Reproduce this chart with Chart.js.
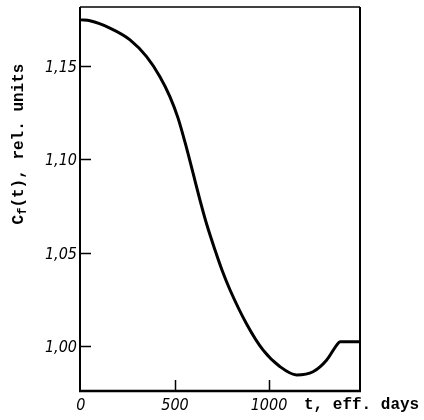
<!doctype html>
<html lang="en">
<head>
    <meta charset="utf-8">
    <title>Cf(t)</title>
    <script src="https://cdn.jsdelivr.net/npm/chart.js"></script>
    <style>
        body {
            margin: 0;
            background: #fff;
        }
    </style>
</head>
<body>
    <canvas id="chart" width="424" height="420"></canvas>

    <script>
        // values
        const days = [0, 48, 154, 261, 349, 420, 473, 516, 553, 596, 633, 670, 713, 750, 793, 881, 968, 1059, 1147, 1234, 1307, 1360, 1378, 1484];
        const cf = [1.1747, 1.1742, 1.1703, 1.1640, 1.1550, 1.1443, 1.1336, 1.1222, 1.1093, 1.0927, 1.0782, 1.0648, 1.0514, 1.0407, 1.0300, 1.0118, 0.9979, 0.9889, 0.9845, 0.9862, 0.9925, 1.0005, 1.0023, 1.0023];
        const xTicks = [0, 500, 1000];
        const yTicks = [1.00, 1.05, 1.10, 1.15];

        const points = days.map((d, i) => ({ x: d, y: cf[i] }));

        // frame, inward ticks, labels and axis titles
        const paperAxes = {
            id: 'paperAxes',
            afterDraw(chart) {
                const ctx = chart.ctx;
                const a = chart.chartArea;
                const xs = chart.scales.x;
                const ys = chart.scales.y;
                ctx.save();
                ctx.strokeStyle = '#000';
                ctx.fillStyle = '#000';

                ctx.lineWidth = 1.5;
                ctx.beginPath();
                ctx.moveTo(a.left, a.top);
                ctx.lineTo(a.right, a.top);
                ctx.stroke();

                ctx.lineWidth = 2;
                ctx.beginPath();
                ctx.moveTo(a.left, a.top);
                ctx.lineTo(a.left, a.bottom);
                ctx.moveTo(a.right, a.top);
                ctx.lineTo(a.right, a.bottom);
                ctx.stroke();

                ctx.lineWidth = 2.5;
                ctx.beginPath();
                ctx.moveTo(a.left - 1, a.bottom);
                ctx.lineTo(a.right + 1, a.bottom);
                ctx.stroke();

                // ticks
                ctx.lineWidth = 1.5;
                ctx.beginPath();
                yTicks.forEach(v => {
                    const py = Math.round(ys.getPixelForValue(v)) + 0.5;
                    ctx.moveTo(a.left, py);
                    ctx.lineTo(a.left + 11, py);
                });
                xTicks.forEach(v => {
                    if (v === 0) return;
                    const px = Math.round(xs.getPixelForValue(v)) + 0.5;
                    ctx.moveTo(px, a.bottom);
                    ctx.lineTo(px, a.bottom - 11);
                });
                ctx.stroke();

                // tick labels
                ctx.font = 'italic 16px "DejaVu Sans Condensed", "DejaVu Sans"';
                ctx.textAlign = 'right';
                ctx.textBaseline = 'middle';
                yTicks.forEach(v => {
                    ctx.fillText(v.toFixed(2).replace('.', ','), a.left - 3, ys.getPixelForValue(v) + 2);
                });
                ctx.textAlign = 'center';
                xTicks.forEach(v => {
                    ctx.fillText(String(v), xs.getPixelForValue(v), 406);
                });

                // x title
                ctx.font = 'bold 16px "Liberation Mono", "DejaVu Sans Mono"';
                ctx.textAlign = 'left';
                ctx.fillText('t, eff. days', 304, 405);

                // y title with subscript f
                ctx.translate(19, 144);
                ctx.rotate(-Math.PI / 2);
                const big = 'bold 16px "Liberation Mono", "DejaVu Sans Mono"';
                const small = 'bold 12px "Liberation Mono", "DejaVu Sans Mono"';
                ctx.font = big;
                const wC = ctx.measureText('C').width;
                const wRest = ctx.measureText('(t), rel. units').width;
                ctx.font = small;
                const wF = ctx.measureText('f').width;
                let x0 = -(wC + wF + wRest) / 2;
                ctx.textAlign = 'left';
                ctx.font = big;
                ctx.fillText('C', x0, 0);
                ctx.font = small;
                ctx.fillText('f', x0 + wC, 4);
                ctx.font = big;
                ctx.fillText('(t), rel. units', x0 + wC + wF, 0);

                ctx.restore();
            }
        };

        new Chart(document.getElementById('chart'), {
            type: 'line',
            data: {
                datasets: [{
                    data: points,
                    borderColor: '#000',
                    borderWidth: 3,
                    pointRadius: 0,
                    fill: false,
                    cubicInterpolationMode: 'monotone'
                }]
            },
            options: {
                responsive: false,
                animation: false,
                devicePixelRatio: 1,
                layout: {
                    padding: { left: 80, right: 64, top: 7, bottom: 29 }
                },
                plugins: {
                    legend: { display: false },
                    tooltip: { enabled: false }
                },
                scales: {
                    x: {
                        type: 'linear',
                        min: -5,
                        max: 1484,
                        display: false
                    },
                    y: {
                        min: 0.9759,
                        max: 1.1816,
                        display: false
                    }
                }
            },
            plugins: [paperAxes]
        });
    </script>
</body>
</html>
